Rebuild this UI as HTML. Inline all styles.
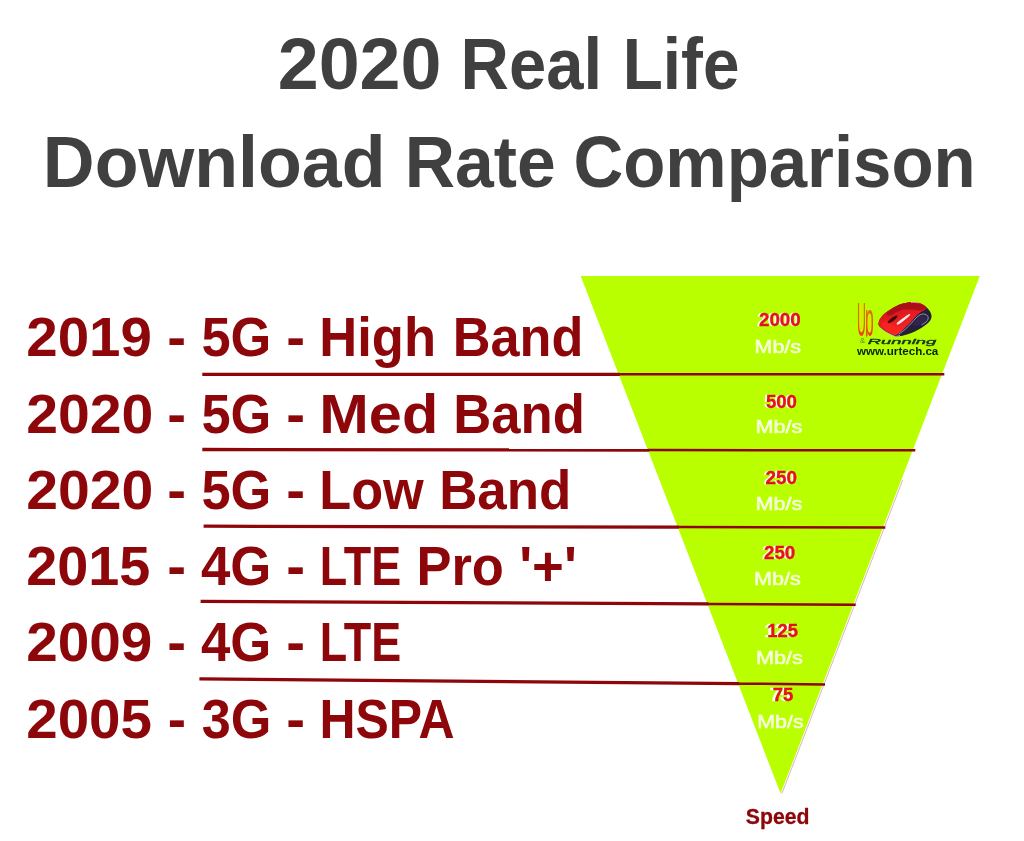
<!DOCTYPE html>
<html lang="en"><head><meta charset="utf-8"><title>2020 Real Life Download Rate Comparison</title>
<style>
html,body{margin:0;padding:0;background:#fff;overflow:hidden}
svg{display:block}
text{font-family:"Liberation Sans",sans-serif;font-weight:bold}
</style></head><body>
<svg width="1024" height="841" viewBox="0 0 1024 841">
<rect width="1024" height="841" fill="#fff"/>
<polygon points="580.7,276 979.8,276 780.6,793.6" fill="#b9ff00"/>
<line x1="902.7" y1="480" x2="782" y2="793.4" stroke="#b8485a" stroke-width="0.7" opacity="0.6"/>
<text y="89.1" font-size="72.5" fill="#404040" lengthAdjust="spacingAndGlyphs"><tspan x="277.7" textLength="163.78" lengthAdjust="spacingAndGlyphs">2020</tspan> <tspan x="460.61" textLength="141.55" lengthAdjust="spacingAndGlyphs">Real</tspan> <tspan x="622.7" textLength="116.74" lengthAdjust="spacingAndGlyphs">Life</tspan></text>
<text y="186.7" font-size="72.5" fill="#404040" lengthAdjust="spacingAndGlyphs"><tspan x="42.82" textLength="342.77" lengthAdjust="spacingAndGlyphs">Download</tspan> <tspan x="404.64" textLength="151.09" lengthAdjust="spacingAndGlyphs">Rate</tspan> <tspan x="573.45" textLength="402.19" lengthAdjust="spacingAndGlyphs">Comparison</tspan></text>
<text y="356.3" font-size="55.9" fill="#8c060a" lengthAdjust="spacingAndGlyphs"><tspan x="26.23" textLength="125.67" lengthAdjust="spacingAndGlyphs">2019</tspan> <tspan x="167.24" textLength="18.81" lengthAdjust="spacingAndGlyphs">-</tspan> <tspan x="201.48" textLength="69.92" lengthAdjust="spacingAndGlyphs">5G</tspan> <tspan x="286.24" textLength="18.81" lengthAdjust="spacingAndGlyphs">-</tspan> <tspan x="319.21" textLength="116.83" lengthAdjust="spacingAndGlyphs">High</tspan> <tspan x="452.73" textLength="130.61" lengthAdjust="spacingAndGlyphs">Band</tspan></text>
<text y="432.6" font-size="55.9" fill="#8c060a" lengthAdjust="spacingAndGlyphs"><tspan x="26.21" textLength="127.1" lengthAdjust="spacingAndGlyphs">2020</tspan> <tspan x="167.24" textLength="18.81" lengthAdjust="spacingAndGlyphs">-</tspan> <tspan x="201.48" textLength="69.92" lengthAdjust="spacingAndGlyphs">5G</tspan> <tspan x="286.24" textLength="18.81" lengthAdjust="spacingAndGlyphs">-</tspan> <tspan x="319.28" textLength="119.03" lengthAdjust="spacingAndGlyphs">Med</tspan> <tspan x="453.21" textLength="131.66" lengthAdjust="spacingAndGlyphs">Band</tspan></text>
<text y="508.8" font-size="55.9" fill="#8c060a" lengthAdjust="spacingAndGlyphs"><tspan x="26.21" textLength="127.1" lengthAdjust="spacingAndGlyphs">2020</tspan> <tspan x="167.24" textLength="18.81" lengthAdjust="spacingAndGlyphs">-</tspan> <tspan x="201.48" textLength="69.92" lengthAdjust="spacingAndGlyphs">5G</tspan> <tspan x="286.24" textLength="18.81" lengthAdjust="spacingAndGlyphs">-</tspan> <tspan x="319.23" textLength="104.59" lengthAdjust="spacingAndGlyphs">Low</tspan> <tspan x="439.2" textLength="132.19" lengthAdjust="spacingAndGlyphs">Band</tspan></text>
<text y="585.1" font-size="55.9" fill="#8c060a" lengthAdjust="spacingAndGlyphs"><tspan x="26.26" textLength="124.13" lengthAdjust="spacingAndGlyphs">2015</tspan> <tspan x="167.24" textLength="18.81" lengthAdjust="spacingAndGlyphs">-</tspan> <tspan x="201" textLength="70.42" lengthAdjust="spacingAndGlyphs">4G</tspan> <tspan x="286.24" textLength="18.81" lengthAdjust="spacingAndGlyphs">-</tspan> <tspan x="319.69" textLength="81.49" lengthAdjust="spacingAndGlyphs">LTE</tspan> <tspan x="416.42" textLength="87.5" lengthAdjust="spacingAndGlyphs">Pro</tspan> <tspan x="519.14" textLength="57.8" lengthAdjust="spacingAndGlyphs">&#39;+&#39;</tspan></text>
<text y="661.4" font-size="55.9" fill="#8c060a" lengthAdjust="spacingAndGlyphs"><tspan x="26.23" textLength="126.19" lengthAdjust="spacingAndGlyphs">2009</tspan> <tspan x="167.24" textLength="18.81" lengthAdjust="spacingAndGlyphs">-</tspan> <tspan x="201" textLength="70.42" lengthAdjust="spacingAndGlyphs">4G</tspan> <tspan x="286.24" textLength="18.81" lengthAdjust="spacingAndGlyphs">-</tspan> <tspan x="319.69" textLength="81.49" lengthAdjust="spacingAndGlyphs">LTE</tspan></text>
<text y="737.6" font-size="55.9" fill="#8c060a" lengthAdjust="spacingAndGlyphs"><tspan x="26.23" textLength="125.67" lengthAdjust="spacingAndGlyphs">2005</tspan> <tspan x="167.68" textLength="18.3" lengthAdjust="spacingAndGlyphs">-</tspan> <tspan x="201.68" textLength="69.7" lengthAdjust="spacingAndGlyphs">3G</tspan> <tspan x="286.24" textLength="18.81" lengthAdjust="spacingAndGlyphs">-</tspan> <tspan x="319.48" textLength="135.07" lengthAdjust="spacingAndGlyphs">HSPA</tspan></text>
<g stroke="#8c060a" fill="none">
<line x1="202.3" y1="374.4" x2="619.68" y2="374.34" stroke-width="3.3"/><line x1="618.68" y1="374.34" x2="944.3" y2="374.3" stroke-width="2.5"/>
<line x1="202.3" y1="449.5" x2="648.9" y2="450" stroke-width="3.3"/><line x1="647.9" y1="450" x2="915.3" y2="450.3" stroke-width="2.5"/>
<line x1="203.6" y1="526.2" x2="678.68" y2="527.1" stroke-width="3.3"/><line x1="677.68" y1="527.1" x2="885.3" y2="527.5" stroke-width="2.5"/>
<line x1="200.6" y1="601.3" x2="708.35" y2="603.93" stroke-width="3.3"/><line x1="707.35" y1="603.93" x2="855.7" y2="604.7" stroke-width="2.5"/>
<line x1="199.4" y1="678.9" x2="739.13" y2="683.64" stroke-width="3.3"/><line x1="738.13" y1="683.64" x2="825" y2="684.4" stroke-width="2.5"/>
</g>
<text x="759.01" y="326.2" font-size="18.9" fill="#f0101c" stroke="#c00818" stroke-width="0.3" style="filter:drop-shadow(-1.7px 0.9px 0 #fdfff0)" textLength="41.75" lengthAdjust="spacingAndGlyphs">2000</text>
<text x="754.52" y="352.9" font-size="17.9" fill="#f6ffdc" stroke="#f6ffdc" stroke-width="0.6" style="font-weight:normal" textLength="46.55" lengthAdjust="spacingAndGlyphs">Mb/s</text>
<text x="765.91" y="407.9" font-size="18.9" fill="#f0101c" stroke="#c00818" stroke-width="0.3" style="filter:drop-shadow(-1.2px 0.9px 0 #fdfff0)" textLength="31.04" lengthAdjust="spacingAndGlyphs">500</text>
<text x="755.41" y="432.9" font-size="17.9" fill="#f6ffdc" stroke="#f6ffdc" stroke-width="0.6" style="font-weight:normal" textLength="46.87" lengthAdjust="spacingAndGlyphs">Mb/s</text>
<text x="765.61" y="484.1" font-size="18.9" fill="#f0101c" stroke="#c00818" stroke-width="0.3" style="filter:drop-shadow(-1.2px 0.9px 0 #fdfff0)" textLength="31.35" lengthAdjust="spacingAndGlyphs">250</text>
<text x="755.41" y="510" font-size="17.9" fill="#f6ffdc" stroke="#f6ffdc" stroke-width="0.6" style="font-weight:normal" textLength="46.87" lengthAdjust="spacingAndGlyphs">Mb/s</text>
<text x="764.01" y="559.1" font-size="18.9" fill="#f0101c" stroke="#c00818" stroke-width="0.3" style="filter:drop-shadow(-1.5px 0.9px 0 #fdfff0)" textLength="31.24" lengthAdjust="spacingAndGlyphs">250</text>
<text x="754.12" y="585.4" font-size="17.9" fill="#f6ffdc" stroke="#f6ffdc" stroke-width="0.6" style="font-weight:normal" textLength="46.65" lengthAdjust="spacingAndGlyphs">Mb/s</text>
<text x="767.15" y="636.6" font-size="18.9" fill="#f0101c" stroke="#c00818" stroke-width="0.3" style="filter:drop-shadow(-2.9px 0.9px 0 #fdfff0)" textLength="30.81" lengthAdjust="spacingAndGlyphs">125</text>
<text x="756.01" y="663.7" font-size="17.9" fill="#f6ffdc" stroke="#f6ffdc" stroke-width="0.6" style="font-weight:normal" textLength="46.97" lengthAdjust="spacingAndGlyphs">Mb/s</text>
<text x="772.72" y="700.8" font-size="18.9" fill="#f0101c" stroke="#c00818" stroke-width="0.3" style="filter:drop-shadow(-2.2px 0.9px 0 #fdfff0)" textLength="20.64" lengthAdjust="spacingAndGlyphs">75</text>
<text x="757.33" y="727.9" font-size="17.9" fill="#f6ffdc" stroke="#f6ffdc" stroke-width="0.6" style="font-weight:normal" textLength="46.23" lengthAdjust="spacingAndGlyphs">Mb/s</text>
<text x="745.77" y="824.3" font-size="22.6" fill="#8c060a" stroke="#8c060a" stroke-width="0.3" textLength="63.69" lengthAdjust="spacingAndGlyphs">Speed</text>
<defs>
<linearGradient id="gu" x1="0" y1="0" x2="0" y2="1"><stop offset="0" stop-color="#c98a00"/><stop offset="0.55" stop-color="#e8600a"/><stop offset="1" stop-color="#f2281a"/></linearGradient>
<linearGradient id="gm" x1="0.2" y1="0" x2="0.6" y2="1"><stop offset="0" stop-color="#c0141c"/><stop offset="0.5" stop-color="#e81c20"/><stop offset="1" stop-color="#f03028"/></linearGradient>
<clipPath id="cu"><rect x="855" y="300" width="20" height="36.6"/></clipPath>
</defs>
<g id="logo">
<path d="M878.52,323.2 C878.76,322.02 879.2,320.17 880.27,318.51 C881.35,316.85 883.2,314.8 884.96,313.23 C886.72,311.67 888.57,310.5 890.82,309.13 C893.07,307.77 896,306.06 898.44,305.03 C900.88,304.01 903.12,303.47 905.47,302.98 C907.81,302.49 910.35,302.15 912.5,302.1 C914.65,302.05 916.5,302.2 918.36,302.69 C920.21,303.18 922.07,304.05 923.63,305.03 C925.2,306.01 926.56,307.28 927.73,308.55 C928.91,309.82 930.03,311.28 930.66,312.65 C931.3,314.02 931.64,315.38 931.54,316.75 C931.45,318.12 930.91,319.58 930.08,320.85 C929.25,322.12 928.03,323.2 926.56,324.37 C925.1,325.54 923.24,326.71 921.29,327.88 C919.34,329.05 917.09,330.32 914.84,331.4 C912.6,332.47 910.16,333.55 907.81,334.33 C905.47,335.11 902.83,335.74 900.78,336.09 C898.73,336.43 897.17,336.67 895.51,336.38 C893.85,336.09 892.48,335.16 890.82,334.33 C889.16,333.5 887.21,332.47 885.55,331.4 C883.89,330.32 881.98,328.86 880.86,327.88 C879.74,326.91 879.2,326.32 878.81,325.54 C878.42,324.76 878.27,324.37 878.52,323.2 Z" fill="#241f3a"/>
<path d="M878.52,323.2 C878.74,322.04 879.2,320.17 880.27,318.51 C881.35,316.85 883.2,314.8 884.96,313.23 C886.72,311.67 888.57,310.5 890.82,309.13 C893.07,307.77 896,306.06 898.44,305.03 C900.88,304.01 903.12,303.47 905.47,302.98 C907.81,302.49 910.35,302.15 912.5,302.1 C914.65,302.05 916.5,302.2 918.36,302.69 C920.21,303.18 922.27,304.2 923.63,305.03 C925,305.86 926.37,306.84 926.56,307.67 C926.76,308.5 925.68,309.33 924.8,310.01 C923.93,310.7 922.46,311.04 921.29,311.77 C920.12,312.5 918.9,313.43 917.77,314.41 C916.65,315.38 915.67,316.41 914.55,317.63 C913.43,318.85 912.35,320.31 911.04,321.73 C909.72,323.15 908.15,324.61 906.64,326.12 C905.13,327.64 903.42,329.49 901.95,330.81 C900.49,332.13 899.07,333.27 897.85,334.04 C896.63,334.8 895.85,335.41 894.63,335.38 C893.41,335.35 892.04,334.57 890.53,333.86 C889.01,333.15 887.14,332.15 885.55,331.11 C883.96,330.06 882.08,328.54 880.98,327.59 C879.87,326.64 879.34,326.15 878.93,325.42 C878.52,324.69 878.29,324.35 878.52,323.2 Z" fill="url(#gm)"/>
<path d="M898.44,305.32 C900.78,304.3 903.12,303.76 905.47,303.27 C907.81,302.79 910.35,302.44 912.5,302.39 C914.65,302.35 916.5,302.49 918.36,302.98 C920.21,303.47 922.34,304.54 923.63,305.32 C924.92,306.11 926,306.94 926.09,307.67 C926.19,308.4 925.31,309.23 924.22,309.72 C923.12,310.21 921.29,310.6 919.53,310.6 C917.77,310.6 915.62,309.96 913.67,309.72 C911.72,309.47 909.67,309.13 907.81,309.13 C905.96,309.13 904.3,309.28 902.54,309.72 C900.78,310.16 898.93,310.99 897.27,311.77 C895.61,312.55 894.04,313.77 892.58,314.41 C891.11,315.04 889.45,315.77 888.48,315.58 C887.5,315.38 886.23,314.26 886.72,313.23 C887.21,312.21 889.45,310.74 891.41,309.43 C893.36,308.11 896.09,306.35 898.44,305.32 Z" fill="#9a0c16" opacity="0.7"/>
<path d="M881.45,323.78 C881.45,322.41 883.69,321.63 884.96,321.44 C886.23,321.24 887.5,321.93 889.06,322.61 C890.62,323.29 892.58,324.66 894.34,325.54 C896.09,326.42 898.24,327.2 899.61,327.88 C900.98,328.57 902.73,328.76 902.54,329.64 C902.34,330.52 899.8,332.42 898.44,333.16 C897.07,333.89 895.8,334.13 894.34,334.04 C892.87,333.94 891.21,333.3 889.65,332.57 C888.09,331.84 886.33,331.11 884.96,329.64 C883.59,328.18 881.45,325.15 881.45,323.78 Z" fill="#ff2420" opacity="0.7"/>
<path d="M899.02,334.04 C900.1,333.21 903.42,330.86 905.47,329.05 C907.52,327.25 909.57,325.05 911.33,323.2 C913.09,321.34 914.45,319.37 916.02,317.92 C917.58,316.48 919.24,315.16 920.7,314.52 C922.17,313.89 923.63,313.84 924.8,314.11 C925.98,314.39 927.2,315.33 927.73,316.16 C928.27,316.99 928.32,318.12 928.03,319.09 C927.73,320.07 927,321.1 925.98,322.02 C924.95,322.95 922.56,324.22 921.87,324.66" fill="none" stroke="#b4aecd" stroke-width="0.8" stroke-linecap="round"/>
<path d="M912.5,324.37 C912.5,323.29 914.65,321.05 916.02,319.68 C917.38,318.31 919.24,316.8 920.7,316.16 C922.17,315.53 923.83,315.58 924.8,315.87 C925.78,316.16 926.46,317.04 926.56,317.92 C926.66,318.8 926.27,320.17 925.39,321.14 C924.51,322.12 922.85,322.95 921.29,323.78 C919.73,324.61 917.48,326.03 916.02,326.12 C914.55,326.22 912.5,325.44 912.5,324.37 Z" fill="#352b5c" opacity="0.6"/>
<path d="M880.57,328.18 C881.4,328.79 883.84,330.76 885.55,331.87 C887.26,332.97 889.16,334.04 890.82,334.8 C892.48,335.55 894.04,336.26 895.51,336.38 C896.97,336.5 898.93,335.65 899.61,335.5" fill="none" stroke="#d0c6cc" stroke-width="0.7" stroke-linecap="round"/>
<path d="M911.33,302.34 C911.91,302.32 913.72,302.12 914.84,302.22 C915.97,302.32 917.53,302.8 918.07,302.92" fill="none" stroke="#f4b4b8" stroke-width="0.9" stroke-linecap="round"/>
<ellipse cx="892.58" cy="319.39" rx="6" ry="1.7" transform="rotate(-36 892.58 319.39)" fill="#3c060c"/>
<path d="M896.8,323.31 C897.48,322.34 900.46,320.04 902.54,318.51 C904.62,316.97 908.09,314.6 909.28,314.11 C910.47,313.62 910.52,314.55 909.69,315.58 C908.86,316.6 906.17,318.8 904.3,320.27 C902.42,321.73 899.69,323.86 898.44,324.37 C897.19,324.87 896.11,324.29 896.8,323.31 Z" fill="#ffe9e6"/>
<rect x="858.6" y="304" width="5.8" height="30" fill="#e8e000" opacity="0.45"/><ellipse cx="869.6" cy="323.4" rx="2.6" ry="11" fill="#e8e000" opacity="0.45"/>
<g clip-path="url(#cu)"><text transform="translate(0,336) scale(1,4.75)" y="0" font-size="10.0" fill="url(#gu)" style="font-weight:normal"><tspan x="857.03" textLength="8.88" lengthAdjust="spacingAndGlyphs">U</tspan><tspan x="864.92" textLength="8.71" lengthAdjust="spacingAndGlyphs">p</tspan></text></g>
<text x="860.05" y="343.4" font-size="6.6" fill="#5f7f2a" textLength="5.23" lengthAdjust="spacingAndGlyphs" style="font-weight:normal">&amp;</text>
<text x="867.71" y="343.9" font-size="7.6" fill="#14381a" font-style="italic" style="font-weight:normal" stroke="#14381a" stroke-width="0.35" textLength="68.57" lengthAdjust="spacingAndGlyphs">Running</text>
<text x="856.98" y="354.6" font-size="10.4" fill="#0b2609" textLength="81.35" lengthAdjust="spacingAndGlyphs">www.urtech.ca</text>
</g>
</svg>
</body></html>
